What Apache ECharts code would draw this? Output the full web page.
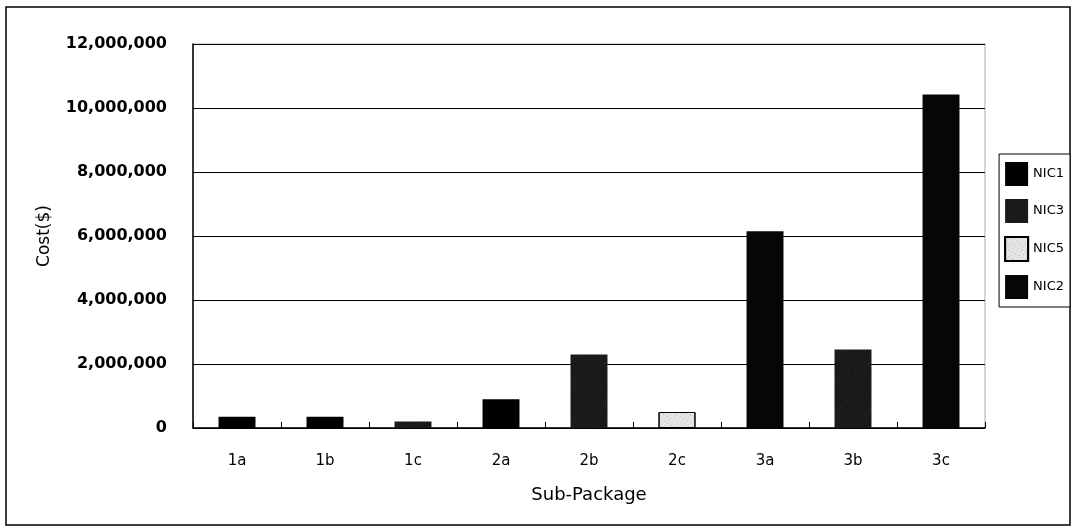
<!DOCTYPE html>
<html><head><meta charset="utf-8">
<script src="https://cdn.jsdelivr.net/npm/echarts@6/dist/echarts.min.js"></script>
<style>html,body{margin:0;padding:0;background:#fff}#c{width:1073px;height:528px}</style>
</head><body><div id="c"></div>
<script>
const categories = ['1a','1b','1c','2a','2b','2c','3a','3b','3c'];
const seriesNames = ['NIC1','NIC3','NIC5','NIC2'];
const nic1 = [350000, 350000, null, 900000, null, null, null, null, null];
const nic3 = [null, null, 200000, null, 2300000, null, null, 2450000, null];
const nic5 = [null, null, null, null, null, 500000, null, null, null];
const nic2 = [null, null, null, null, null, null, 6150000, null, 10420000];
const yTicks = [0, 2000000, 4000000, 6000000, 8000000, 10000000, 12000000];

const FONT = 'DejaVu Sans, Liberation Sans, Arial';
const chart = echarts.init(document.getElementById('c'), null, {renderer:'canvas'});
const fmt = v => v.toLocaleString('en-US');
const noDecal = {symbol:'rect', color:'rgba(0,0,0,0)'};
const dotDecal = {symbol:'rect', symbolSize:0.35, color:'rgba(255,255,255,0.7)', dashArrayX:[[1,7],[1,11]], dashArrayY:[1,6], rotation:0.3};
const lightDecal = {symbol:'rect', symbolSize:0.7, color:'rgba(80,80,80,0.6)', dashArrayX:[[2,2],[1,3]], dashArrayY:[1,2], rotation:0.5};
const styles = [
  {color:'#000', decal:noDecal},
  {color:'#1a1a1a', decal:dotDecal},
  {color:'#e6e6e6', borderColor:'#000', borderWidth:1, decal:lightDecal},
  {color:'#060606', decal:noDecal}
];
const datasets = [nic1, nic3, nic5, nic2];
chart.setOption({
  animation:false,
  aria:{enabled:true, label:{enabled:false}, decal:{show:true}},
  grid:{left:193, right:88, top:44, bottom:100, show:true, borderColor:'#aaa', borderWidth:1},
  legend:{
    orient:'vertical', right:3, top:154, itemWidth:23, itemHeight:24, itemGap:13, icon:'rect',
    backgroundColor:'#fff', borderColor:'#000', borderWidth:1, padding:[8,6,8,5],
    textStyle:{fontFamily:FONT, fontSize:13, color:'#000'},
    data:seriesNames, selectedMode:false
  },
  xAxis:{
    type:'category', data:categories,
    axisLine:{lineStyle:{color:'#000', width:1.5}},
    axisTick:{show:true, inside:true, length:6, lineStyle:{color:'#000'}},
    axisLabel:{fontFamily:FONT, fontSize:15, color:'#000', margin:26},
    name:'Sub-Package', nameLocation:'middle', nameGap:58,
    nameTextStyle:{fontFamily:FONT, fontSize:18, color:'#000'}
  },
  yAxis:{
    type:'value', min:0, max:12000000, interval:2000000,
    axisLine:{show:true, lineStyle:{color:'#000', width:1.5}},
    axisTick:{show:false},
    splitLine:{lineStyle:{color:'#000', width:1}},
    axisLabel:{fontFamily:FONT, fontSize:16, fontWeight:'bold', color:'#000', margin:26, formatter:v=>fmt(v)},
    name:'Cost($)', nameLocation:'middle', nameGap:140, nameRotate:90,
    nameTextStyle:{fontFamily:FONT, fontSize:17, color:'#000'}
  },
  series: datasets.map((d,i)=>({
    name:seriesNames[i], type:'bar', stack:'s', data:d, barWidth:'42%',
    itemStyle:styles[i]
  })),
  graphic:[{type:'rect', shape:{x:6, y:7, width:1064, height:518}, style:{fill:'none', stroke:'#000', lineWidth:1.5}, silent:true}]
});
</script></body></html>
